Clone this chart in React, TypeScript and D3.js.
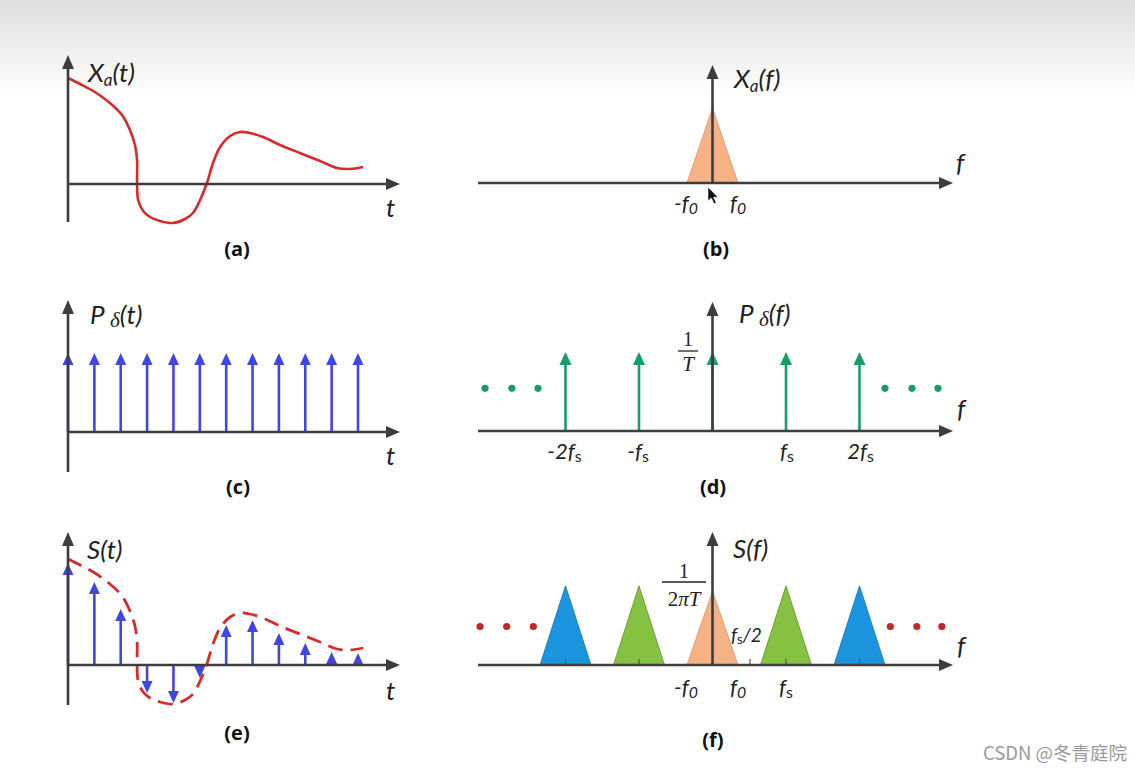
import React from "react";
import * as d3 from "d3";

const W = 1135;
const H = 775;

// ---- Time domain (panels a, c, e): t in sample periods ----
const signalT = [0, 0.46, 1.02, 1.59, 2.05, 2.35, 2.54, 2.62, 2.62, 2.66, 2.85, 3.11, 3.49, 3.98, 4.44, 4.74, 5.01, 5.27, 5.5, 5.77, 6.15, 6.53, 6.9, 7.4, 8.04, 8.8, 9.56, 10.2, 10.7, 11.2];
const signalV = [10.6, 10.0, 9.2, 8.1, 6.9, 5.4, 3.9, 2.4, 0.1, -1.6, -2.7, -3.3, -3.7, -3.9, -3.5, -2.9, -1.6, 0.1, 2.1, 3.7, 4.8, 5.2, 5.1, 4.7, 3.9, 3.1, 2.3, 1.6, 1.5, 1.7];
const sampleN = [0, 1, 2, 3, 4, 5, 6, 7, 8, 9, 10, 11];
const combPulse = [1, 1, 1, 1, 1, 1, 1, 1, 1, 1, 1, 1];
const sampledV = [10.2, 8.3, 5.6, -2.8, -3.8, -1.3, 4.0, 4.5, 3.2, 2.2, 1.3, 1.2];

// ---- Frequency domain (panels b, d, f): f in units of fs ----
const combF = [-2, -1, 0, 1, 2];
const combFLabels = ["-2", "-", "", "", "2"];
const replicaCenter = [-2, -1, 0, 1, 2];
const replicaHeight = [1.07, 1.07, 1.0, 1.07, 1.07];
const replicaColor = ["#1b96de", "#86c142", "#f5b284", "#86c142", "#1b96de"];
const replicaStroke = ["#1670a8", "#5f8e2c", "#d9936a", "#5f8e2c", "#1670a8"];
const f0 = 0.347;
const spectrumTicks = [-2, -1, 0.51, 1, 2];
const dotsD = [-3.095, -2.73, -2.374, 2.347, 2.714, 3.068];
const dotsF = [-3.163, -2.8, -2.438, 2.42, 2.78, 3.12];

const AXIS = "#3d3d3d";
const BLUE = "#4146e0";
const GREEN = "#189c6c";
const RED = "#d42b2b";
const ITAL = "Lato, 'Open Sans', 'DejaVu Sans', sans-serif";
const SERIF = "'Liberation Serif', 'DejaVu Serif', serif";
const LBL = 26;

const xT = d3.scaleLinear().domain([0, 11]).range([68, 358]);
const xF = d3.scaleLinear().domain([0, 1]).range([712.5, 786]);
const yA = d3.scaleLinear().domain([0, 10]).range([184, 84]);
const yC = d3.scaleLinear().domain([0, 1]).range([432, 353]);
const yE = d3.scaleLinear().domain([0, 10]).range([665, 565]);
const yB = d3.scaleLinear().domain([0, 1]).range([183, 108]);
const yD = d3.scaleLinear().domain([0, 1]).range([431, 352]);
const yF = d3.scaleLinear().domain([0, 1]).range([665, 591]);

function headPts(x: number, y: number, dir: "up" | "down" | "right", len: number, hw: number) {
  if (dir === "up") return `${x},${y} ${x - hw},${y + len} ${x + hw},${y + len}`;
  if (dir === "down") return `${x},${y} ${x - hw},${y - len} ${x + hw},${y - len}`;
  return `${x},${y} ${x - len},${y - hw} ${x - len},${y + hw}`;
}

function Axes({ x0, x1, y0, yTop, yBottom, xAxisY }: { x0: number; x1: number; y0: number; yTop: number; yBottom: number; xAxisY: number }) {
  return (
    <g>
      <line x1={x0} x2={x1 - 10} y1={xAxisY} y2={xAxisY} stroke={AXIS} strokeWidth={2.6} />
      <polygon points={headPts(x1, xAxisY, "right", 14, 6)} fill={AXIS} />
      <line x1={y0} x2={y0} y1={yBottom} y2={yTop + 10} stroke={AXIS} strokeWidth={2.6} />
      <polygon points={headPts(y0, yTop, "up", 14, 6)} fill={AXIS} />
    </g>
  );
}

function Stem({ x, base, tip, color, hw = 5.5, len = 12, w = 2.6 }: { x: number; base: number; tip: number; color: string; hw?: number; len?: number; w?: number }) {
  const down = tip > base;
  return (
    <g>
      <line x1={x} x2={x} y1={base} y2={down ? tip - len + 2 : tip + len - 2} stroke={color} strokeWidth={w} />
      <polygon points={headPts(x, tip, down ? "down" : "up", len, hw)} fill={color} />
    </g>
  );
}

function FLabel({ x, y, pre, sub, size = 21, subItalic = false, anchor = "middle" }: { x: number; y: number; pre: string; sub: string; size?: number; subItalic?: boolean; anchor?: string }) {
  return (
    <text x={x} y={y} fontFamily={ITAL} fontStyle="italic" fontSize={size} fill="#222" textAnchor={anchor}>
      {pre}f
      <tspan fontSize={size * 0.72} dy={3} fontStyle={subItalic ? "italic" : "normal"}>{sub}</tspan>
    </text>
  );
}

function PanelLabel({ x, y, s }: { x: number; y: number; s: string }) {
  return (
    <text x={x} y={y} fontFamily="'Open Sans', Lato, sans-serif" fontWeight={700} fontSize={20} fill="#111" textAnchor="middle">{s}</text>
  );
}

export default function App() {
  const curveA = d3
    .line<number>()
    .x((_, i) => xT(signalT[i]))
    .y((_, i) => yA(signalV[i]))
    .curve(d3.curveCatmullRom.alpha(0.5))(signalV) || "";
  const curveE = d3
    .line<number>()
    .x((_, i) => xT(signalT[i]))
    .y((_, i) => yE(signalV[i]))
    .curve(d3.curveCatmullRom.alpha(0.5))(signalV) || "";

  const tri = (c: number, h: number, ys: d3.ScaleLinear<number, number>) =>
    `${xF(c - f0)},${ys(0)} ${xF(c)},${ys(h)} ${xF(c + f0)},${ys(0)}`;

  return (
    <svg width={W} height={H} style={{ position: "fixed", left: 0, top: 0 }}>
      <defs>
        <linearGradient id="bg" x1="0" y1="0" x2="0" y2="1">
          <stop offset="0" stopColor="#dedede" />
          <stop offset="1" stopColor="#ffffff" />
        </linearGradient>
      </defs>
      <rect x={0} y={0} width={W} height={H} fill="#ffffff" />
      <rect x={0} y={0} width={W} height={95} fill="url(#bg)" />

      {/* ---------- (a) ---------- */}
      <path d={curveA} fill="none" stroke={RED} strokeWidth={2.6} />
      <Axes x0={68} x1={400} y0={xT(0)} yTop={55} yBottom={222} xAxisY={yA(0)} />
      <text x={88} y={82} fontFamily={ITAL} fontStyle="italic" fontSize={LBL} fill="#222">
        X<tspan fontSize={17} dy={4}>a</tspan>
        <tspan dy={-4}>(t)</tspan>
      </text>
      <text x={386} y={217} fontFamily={ITAL} fontStyle="italic" fontSize={26} fill="#222">t</text>
      <PanelLabel x={237} y={256} s="(a)" />

      {/* ---------- (b) ---------- */}
      <polygon points={tri(0, 1, yB)} fill={replicaColor[2]} stroke={replicaStroke[2]} strokeWidth={0.8} />
      <Axes x0={478} x1={953} y0={xF(0)} yTop={65} yBottom={yB(0)} xAxisY={yB(0)} />
      <text x={734} y={88} fontFamily={ITAL} fontStyle="italic" fontSize={LBL} fill="#222">
        X<tspan fontSize={17} dy={4}>a</tspan>
        <tspan dy={-4}>(f)</tspan>
      </text>
      <text x={956} y={172} fontFamily={ITAL} fontStyle="italic" fontSize={26} fill="#222">f</text>
      <FLabel x={xF(-f0) - 1} y={211} pre="-" sub="0" subItalic size={22} />
      <FLabel x={xF(f0)} y={211} pre="" sub="0" subItalic size={22} />
      <polygon
        points="708,187 708,201 711.3,198 714,203.8 716.2,202.8 713.6,197.2 718,197.2"
        fill="#111"
        stroke="#fff"
        strokeWidth={0.6}
      />
      <PanelLabel x={716} y={256} s="(b)" />

      {/* ---------- (c) ---------- */}
      {sampleN.map((n, i) => (
        <Stem key={n} x={xT(n)} base={yC(0)} tip={yC(combPulse[i])} color={BLUE} />
      ))}
      <Axes x0={68} x1={400} y0={xT(0)} yTop={300} yBottom={472} xAxisY={yC(0)} />
      <text x={90} y={324} fontFamily={ITAL} fontStyle="italic" fontSize={LBL} fill="#222">
        P <tspan fontSize={21} dy={3} fontFamily={SERIF}>δ</tspan>
        <tspan dy={-3}>(t)</tspan>
      </text>
      <text x={386} y={465} fontFamily={ITAL} fontStyle="italic" fontSize={26} fill="#222">t</text>
      <PanelLabel x={238} y={494} s="(c)" />

      {/* ---------- (d) ---------- */}
      {combF.map((f) => (
        <Stem key={f} x={xF(f)} base={yD(0)} tip={yD(1)} color={GREEN} hw={6} len={13} />
      ))}
      {dotsD.map((f) => (
        <circle key={f} cx={xF(f)} cy={yD(0.54)} r={3.6} fill={GREEN} />
      ))}
      <Axes x0={478} x1={953} y0={xF(0)} yTop={302} yBottom={yD(0)} xAxisY={yD(0)} />
      <text x={739} y={323} fontFamily={ITAL} fontStyle="italic" fontSize={LBL} fill="#222">
        P <tspan fontSize={21} dy={3} fontFamily={SERIF}>δ</tspan>
        <tspan dy={-3}>(f)</tspan>
      </text>
      <text x={688} y={346} fontFamily={SERIF} fontSize={20} fill="#222" textAnchor="middle">1</text>
      <line x1={678} x2={698} y1={351} y2={351} stroke="#222" strokeWidth={1.3} />
      <text x={688} y={371} fontFamily={SERIF} fontStyle="italic" fontSize={21} fill="#222" textAnchor="middle">T</text>
      <text x={957} y={418} fontFamily={ITAL} fontStyle="italic" fontSize={26} fill="#222">f</text>
      {combF.map((f, i) =>
        f === 0 ? null : (
          <FLabel key={f} x={xF(f) + (f < 0 ? -1 : 1)} y={459} pre={combFLabels[i]} sub="s" size={22} />
        )
      )}
      <PanelLabel x={713} y={494} s="(d)" />

      {/* ---------- (e) ---------- */}
      {sampleN.map((n, i) => (
        <Stem key={n} x={xT(n)} base={yE(0)} tip={yE(sampledV[i])} color={BLUE} />
      ))}
      <path d={curveE} fill="none" stroke={RED} strokeWidth={2.8} strokeDasharray="15 8" />
      <Axes x0={68} x1={400} y0={xT(0)} yTop={532} yBottom={705} xAxisY={yE(0)} />
      <text x={87} y={559} fontFamily={ITAL} fontStyle="italic" fontSize={LBL} fill="#222">S(t)</text>
      <text x={386} y={700} fontFamily={ITAL} fontStyle="italic" fontSize={26} fill="#222">t</text>
      <PanelLabel x={237} y={740} s="(e)" />

      {/* ---------- (f) ---------- */}
      {replicaCenter.map((c, i) => (
        <polygon key={c} points={tri(c, replicaHeight[i], yF)} fill={replicaColor[i]} stroke={replicaStroke[i]} strokeWidth={0.8} />
      ))}
      {spectrumTicks.map((f) => (
        <line key={f} x1={xF(f)} x2={xF(f)} y1={yF(0)} y2={yF(0) - 6} stroke="#555" strokeWidth={1.2} />
      ))}
      {dotsF.map((f) => (
        <circle key={f} cx={xF(f)} cy={yF(0.52)} r={3.6} fill="#c0262a" />
      ))}
      <Axes x0={478} x1={953} y0={xF(0)} yTop={532} yBottom={yF(0)} xAxisY={yF(0)} />
      <text x={733} y={558} fontFamily={ITAL} fontStyle="italic" fontSize={LBL} fill="#222">S(f)</text>
      <text x={684} y={578} fontFamily={SERIF} fontSize={20} fill="#222" textAnchor="middle">1</text>
      <line x1={662} x2={706} y1={582} y2={582} stroke="#222" strokeWidth={1.3} />
      <text x={684} y={606} fontFamily={SERIF} fontSize={21} fill="#222" textAnchor="middle">
        2<tspan fontStyle="italic">πT</tspan>
      </text>
      <text x={731} y={642} fontFamily={ITAL} fontStyle="italic" fontSize={19} fill="#222">
        f<tspan fontSize={13} dy={2} fontStyle="normal">s</tspan>
        <tspan dy={-2}>/2</tspan>
      </text>
      <text x={957} y={655} fontFamily={ITAL} fontStyle="italic" fontSize={26} fill="#222">f</text>
      <FLabel x={xF(-f0) - 1} y={695} pre="-" sub="0" subItalic size={22} />
      <FLabel x={xF(f0)} y={695} pre="" sub="0" subItalic size={22} />
      <FLabel x={xF(1)} y={695} pre="" sub="s" size={22} />
      <PanelLabel x={713} y={747} s="(f)" />

      {/* watermark */}
      <text x={983} y={760} fontFamily="'Noto Sans CJK SC', 'Noto Sans', sans-serif" fontSize={18.5} fill="#9a9a9a">
        CSDN @冬青庭院
      </text>
    </svg>
  );
}
